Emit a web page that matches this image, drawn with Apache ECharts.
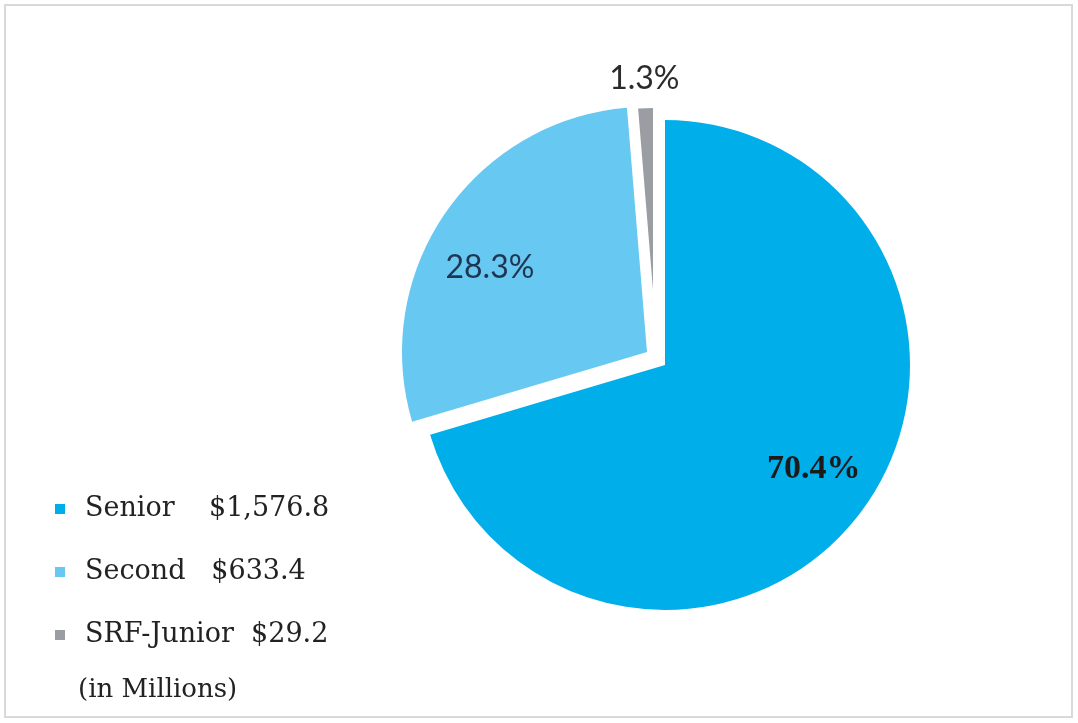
<!DOCTYPE html>
<html>
<head>
<meta charset="utf-8">
<title>Bond holdings by lien</title>
<script src="https://cdn.jsdelivr.net/npm/echarts@6/dist/echarts.min.js"></script>
<style>
  html, body { margin: 0; padding: 0; background: #ffffff; }
  #chart { width: 1078px; height: 723px; }
</style>
</head>
<body>
<div id="chart"></div>
<script>
// Outstanding amounts by lien, in millions of dollars
const categories = ['Senior', 'Second', 'SRF-Junior'];
const amounts = [1576.8, 633.4, 29.2];
const sliceColors = ['#00aeea', '#67c8f2', '#9a9ea3'];
// gap between a legend name and its amount, in spaces
const legendGaps = [4, 3, 2];

const total = amounts.reduce((a, b) => a + b, 0);
const shares = amounts.map(v => (v / total * 100).toFixed(1) + '%');

function money(v) {
  const parts = v.toFixed(1).split('.');
  parts[0] = parts[0].replace(/\B(?=(\d{3})+(?!\d))/g, ',');
  return '$' + parts.join('.');
}

// pie geometry (pixels)
const CX = 665, CY = 365, R = 245;

const clear = 'rgba(0,0,0,0)';

// one exploded slice: a filled pie that only paints item idx,
// plus a transparent ring that carries its percentage label
function slice(idx, center, radius, labelRing, labelStyle, nudge) {
  const shape = {
    type: 'pie',
    center: center,
    radius: [0, radius],
    startAngle: 90,
    clockwise: true,
    silent: true,
    animation: false,
    avoidLabelOverlap: false,
    label: { show: false },
    labelLine: { show: false },
    itemStyle: { borderWidth: 0 },
    data: categories.map((name, i) => ({
      name: name,
      value: amounts[i],
      itemStyle: { color: i === idx ? sliceColors[i] : clear, borderWidth: 0 }
    }))
  };
  const text = {
    type: 'pie',
    center: center,
    radius: labelRing,
    startAngle: 90,
    clockwise: true,
    silent: true,
    animation: false,
    avoidLabelOverlap: false,
    labelLine: { show: false },
    labelLayout: nudge || {},
    itemStyle: { color: clear, borderWidth: 0 },
    label: Object.assign({ position: 'inside' }, labelStyle),
    data: categories.map((name, i) => ({
      name: name,
      value: amounts[i],
      itemStyle: { color: clear, borderWidth: 0 },
      label: { show: i === idx, formatter: shares[i] }
    }))
  };
  return [shape, text];
}

const series = [].concat(
  slice(0, [CX, CY], R, [R * 0.46, R],
        { fontFamily: 'Liberation Serif', fontWeight: 'bold', fontSize: 34, color: '#1b1b1b' },
        { dx: 3, dy: -5 }),
  slice(1, [CX - 18, CY - 13], R, [R * 0.46, R],
        { fontFamily: 'Lato', fontSize: 32, color: '#1f3552' },
        { dx: -7, dy: 18 }),
  slice(2, [CX - 12, CY - 75], 182, [190, 226],
        { fontFamily: 'Lato', fontSize: 32, color: '#2b2b2b' })
);

const chart = echarts.init(document.getElementById('chart'), null, { renderer: 'canvas' });
chart.setOption({
  backgroundColor: '#ffffff',
  animation: false,
  legend: {
    orient: 'vertical',
    left: 55,
    top: 494,
    padding: 0,
    icon: 'rect',
    itemWidth: 10,
    itemHeight: 10,
    itemGap: 33,
    selectedMode: false,
    textStyle: {
      fontFamily: 'DejaVu Serif',
      fontSize: 27,
      lineHeight: 30,
      color: '#222222',
      padding: [0, 0, 0, 15]
    },
    data: categories.map((name, i) => ({
      name: name,
      itemStyle: { color: sliceColors[i], opacity: 1 }
    })),
    formatter: function (name) {
      const i = categories.indexOf(name);
      return name + ' '.repeat(legendGaps[i]) + money(amounts[i]);
    }
  },
  graphic: [
    {
      type: 'rect',
      silent: true,
      shape: { x: 5, y: 5, width: 1067, height: 712 },
      style: { fill: 'none', stroke: '#d9d9d9', lineWidth: 2 }
    },
    {
      type: 'text',
      silent: true,
      style: {
        text: '(in Millions)',
        x: 78,
        y: 690,
        verticalAlign: 'middle',
        font: '26px "DejaVu Serif"',
        fill: '#222222'
      }
    }
  ],
  series: series
});
</script>
</body>
</html>
